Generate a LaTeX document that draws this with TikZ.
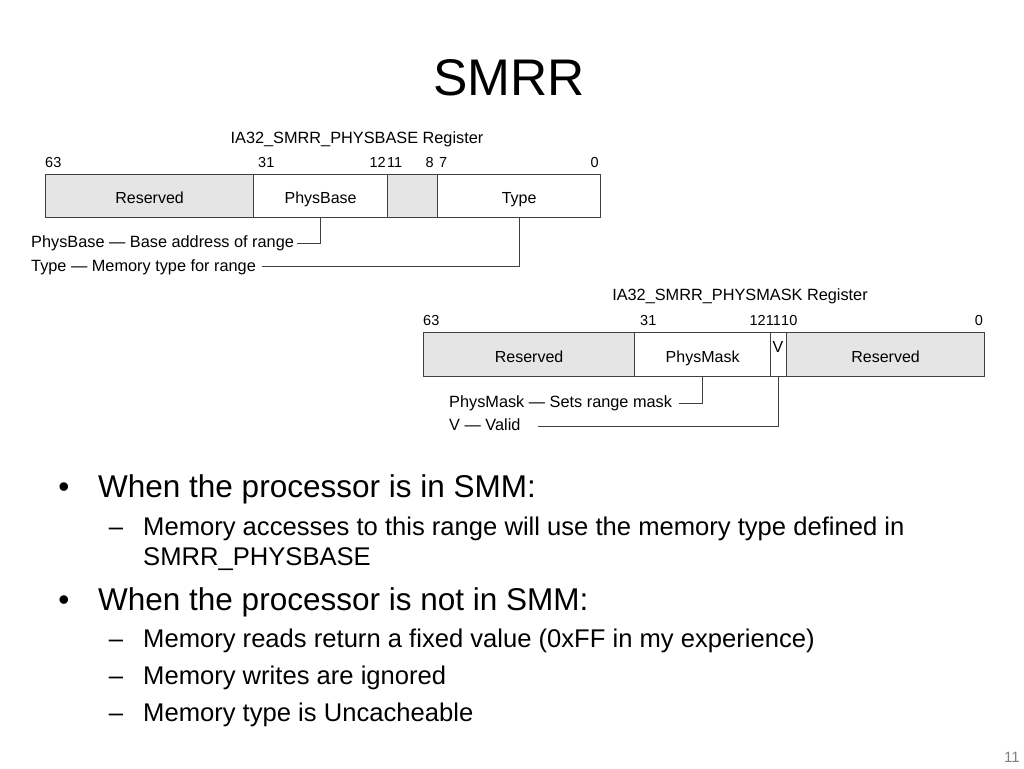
\documentclass[tikz,border=0pt]{standalone}
\usepackage{fontspec}
\setmainfont{Liberation Sans}
\begin{document}
\begin{tikzpicture}[x=1pt,y=-1pt,
  fld/.style={draw=black!75, line width=1.2pt, inner sep=0pt, anchor=north west, font=\fontsize{16}{19}\selectfont, text height=15pt, text depth=0pt},
  rsv/.style={fld, fill=black!10},
  bitno/.style={font=\fontsize{14.5}{18}\selectfont, inner sep=0pt},
  legend/.style={font=\fontsize{16.3}{19}\selectfont, inner sep=0pt, anchor=base west},
  regtitle/.style={font=\fontsize{16.3}{19}\selectfont, inner sep=0pt, anchor=base},
  lead/.style={draw=black!75, line width=0.9pt},
  lvl1/.style={font=\fontsize{31.5}{36}\selectfont, inner sep=0pt, anchor=base west},
  lvl2/.style={font=\fontsize{25.6}{30}\selectfont, inner sep=0pt, anchor=base west},
  mark1/.style={font=\fontsize{31.5}{36}\selectfont, inner sep=0pt, anchor=base},
  mark2/.style={font=\fontsize{25.6}{30}\selectfont, inner sep=0pt, anchor=base},
]
\useasboundingbox[fill=white] (0,0) rectangle (1024,768);

% Title
\node[font=\fontsize{51.5}{60}\selectfont, inner sep=0pt, anchor=base] (title) at (509,95) {SMRR};

% ---------- PHYSBASE register ----------
\node[regtitle] (t1) at (357,143) {IA32\_SMRR\_PHYSBASE Register};
\node[bitno, anchor=base west] (b63a) at (45,167) {63};
\node[bitno, anchor=base west] (b31a) at (258,167) {31};
\node[bitno, anchor=base east] (b12a) at (386,167) {12};
\node[bitno, anchor=base west] (b11a) at (387,167) {11};
\node[bitno, anchor=base east] (b8a) at (434,167) {8};
\node[bitno, anchor=base west] (b7a) at (439,167) {7};
\node[bitno, anchor=base east] (b0a) at (599,167) {0};

\node[rsv, minimum width=208pt, minimum height=43pt] (r1) at (45,174) {Reserved};
\node[fld, minimum width=134pt, minimum height=43pt] (pb) at (253,174) {PhysBase};
\node[rsv, minimum width=50pt, minimum height=43pt] (g1) at (387,174) {};
\node[fld, minimum width=163pt, minimum height=43pt] (ty) at (437,174) {Type};

\node[legend] (pbt) at (31,247) {PhysBase — Base address of range};
\node[legend] (tyt) at (31,271) {Type — Memory type for range};
\coordinate (pbend) at (297,243);
\coordinate (tyend) at (262,266);
\draw[lead] (pb.south) |- (pbend);
\draw[lead] (ty.south) |- (tyend);

% ---------- PHYSMASK register ----------
\node[regtitle] (t2) at (740,300) {IA32\_SMRR\_PHYSMASK Register};
\node[bitno, anchor=base west] (b63b) at (423,325) {63};
\node[bitno, anchor=base west] (b31b) at (640,325) {31};
\node[bitno, anchor=base east] (b12b) at (766,325) {12};
\node[bitno, anchor=base] (b11b) at (773.5,325) {11};
\node[bitno, anchor=base west] (b10b) at (781,325) {10};
\node[bitno, anchor=base east] (b0b) at (983,325) {0};

\node[rsv, minimum width=211pt, minimum height=44pt] (r2) at (423,332) {Reserved};
\node[fld, minimum width=136pt, minimum height=44pt] (pm) at (634,332) {PhysMask};
\node[fld, minimum width=16pt, minimum height=44pt] (vf) at (770,332) {};
\node[rsv, minimum width=198pt, minimum height=44pt] (r3) at (786,332) {Reserved};
\node[font=\fontsize{16}{19}\selectfont, inner sep=0pt, anchor=base] (vt) at (778,352) {V};

\node[legend] (pmt) at (449,407) {PhysMask — Sets range mask};
\node[legend] (vlt) at (449,430) {V — Valid};
\coordinate (pmend) at (679,403);
\coordinate (vend) at (538,426);
\draw[lead] (pm.south) |- (pmend);
\draw[lead] (vf.south) |- (vend);

% ---------- Bullets ----------
\node[mark1] (m1) at (64,497) {•};
\node[lvl1] (l1) at (98,497) {When the processor is in SMM:};
\node[mark2] (d1) at (116,535) {–};
\node[lvl2] (l2) at (143,535) {Memory accesses to this range will use the memory type defined in};
\node[lvl2] (l3) at (143,565) {SMRR\_PHYSBASE};
\node[mark1] (m2) at (64,610) {•};
\node[lvl1] (l4) at (98,610) {When the processor is not in SMM:};
\node[mark2] (d2) at (116,647) {–};
\node[lvl2] (l5) at (143,647) {Memory reads return a fixed value (0xFF in my experience)};
\node[mark2] (d3) at (116,684) {–};
\node[lvl2] (l6) at (143,684) {Memory writes are ignored};
\node[mark2] (d4) at (116,721) {–};
\node[lvl2] (l7) at (143,721) {Memory type is Uncacheable};

% Page number
\node[font=\fontsize{15}{18}\selectfont, text=black!50, inner sep=0pt, anchor=base east] (pg) at (1020,762) {11};
\end{tikzpicture}
\end{document}
